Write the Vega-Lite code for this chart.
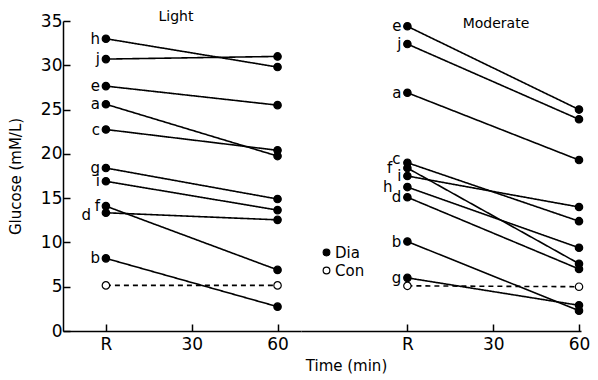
{
  "$schema": "https://vega.github.io/schema/vega-lite/v6.json",
  "padding": {"left": 8, "top": 10, "right": 5, "bottom": 5},
  "background": "white",
  "spacing": 0,
  "config": {
    "view": {"stroke": null},
    "font": "DejaVu Sans",
    "axis": {
      "grid": false,
      "domainColor": "black",
      "domainWidth": 1.5,
      "tickColor": "black",
      "tickWidth": 1.5,
      "tickSize": -7,
      "labelColor": "black",
      "labelFont": "DejaVu Sans",
      "labelFontSize": 17,
      "titleFont": "DejaVu Sans",
      "titleFontSize": 15,
      "titleFontWeight": "normal",
      "titleColor": "black"
    },
    "title": {"font": "DejaVu Sans", "fontSize": 14, "fontWeight": "normal", "color": "black"},
    "legend": {"labelFont": "DejaVu Sans", "labelFontSize": 15, "labelColor": "black"}
  },
  "datasets": {
    "glu": [
      {"panel": "Light", "id": "a", "grp": "Dia", "t": 0, "v": 25.6},
      {"panel": "Light", "id": "a", "grp": "Dia", "t": 60, "v": 19.75},
      {"panel": "Light", "id": "b", "grp": "Dia", "t": 0, "v": 8.2},
      {"panel": "Light", "id": "b", "grp": "Dia", "t": 60, "v": 2.75},
      {"panel": "Light", "id": "c", "grp": "Dia", "t": 0, "v": 22.75},
      {"panel": "Light", "id": "c", "grp": "Dia", "t": 60, "v": 20.4},
      {"panel": "Light", "id": "d", "grp": "Dia", "t": 0, "v": 13.35},
      {"panel": "Light", "id": "d", "grp": "Dia", "t": 60, "v": 12.55},
      {"panel": "Light", "id": "e", "grp": "Dia", "t": 0, "v": 27.65},
      {"panel": "Light", "id": "e", "grp": "Dia", "t": 60, "v": 25.5},
      {"panel": "Light", "id": "f", "grp": "Dia", "t": 0, "v": 14.1},
      {"panel": "Light", "id": "f", "grp": "Dia", "t": 60, "v": 6.9},
      {"panel": "Light", "id": "g", "grp": "Dia", "t": 0, "v": 18.4},
      {"panel": "Light", "id": "g", "grp": "Dia", "t": 60, "v": 14.9},
      {"panel": "Light", "id": "h", "grp": "Dia", "t": 0, "v": 33.0},
      {"panel": "Light", "id": "h", "grp": "Dia", "t": 60, "v": 29.8},
      {"panel": "Light", "id": "i", "grp": "Dia", "t": 0, "v": 16.9},
      {"panel": "Light", "id": "i", "grp": "Dia", "t": 60, "v": 13.65},
      {"panel": "Light", "id": "j", "grp": "Dia", "t": 0, "v": 30.7},
      {"panel": "Light", "id": "j", "grp": "Dia", "t": 60, "v": 31.0},
      {"panel": "Light", "id": "con", "grp": "Con", "t": 0, "v": 5.15},
      {"panel": "Light", "id": "con", "grp": "Con", "t": 60, "v": 5.15},
      {"panel": "Moderate", "id": "a", "grp": "Dia", "t": 0, "v": 26.9},
      {"panel": "Moderate", "id": "a", "grp": "Dia", "t": 60, "v": 19.3},
      {"panel": "Moderate", "id": "b", "grp": "Dia", "t": 0, "v": 10.1},
      {"panel": "Moderate", "id": "b", "grp": "Dia", "t": 60, "v": 2.3},
      {"panel": "Moderate", "id": "c", "grp": "Dia", "t": 0, "v": 19.0},
      {"panel": "Moderate", "id": "c", "grp": "Dia", "t": 60, "v": 12.4},
      {"panel": "Moderate", "id": "d", "grp": "Dia", "t": 0, "v": 15.1},
      {"panel": "Moderate", "id": "d", "grp": "Dia", "t": 60, "v": 7.0},
      {"panel": "Moderate", "id": "e", "grp": "Dia", "t": 0, "v": 34.4},
      {"panel": "Moderate", "id": "e", "grp": "Dia", "t": 60, "v": 25.0},
      {"panel": "Moderate", "id": "f", "grp": "Dia", "t": 0, "v": 18.4},
      {"panel": "Moderate", "id": "f", "grp": "Dia", "t": 60, "v": 7.6},
      {"panel": "Moderate", "id": "g", "grp": "Dia", "t": 0, "v": 6.0},
      {"panel": "Moderate", "id": "g", "grp": "Dia", "t": 60, "v": 2.9},
      {"panel": "Moderate", "id": "h", "grp": "Dia", "t": 0, "v": 16.25},
      {"panel": "Moderate", "id": "h", "grp": "Dia", "t": 60, "v": 9.4},
      {"panel": "Moderate", "id": "i", "grp": "Dia", "t": 0, "v": 17.5},
      {"panel": "Moderate", "id": "i", "grp": "Dia", "t": 60, "v": 14.0},
      {"panel": "Moderate", "id": "j", "grp": "Dia", "t": 0, "v": 32.4},
      {"panel": "Moderate", "id": "j", "grp": "Dia", "t": 60, "v": 23.9},
      {"panel": "Moderate", "id": "con", "grp": "Con", "t": 0, "v": 5.1},
      {"panel": "Moderate", "id": "con", "grp": "Con", "t": 60, "v": 5.0}
    ]
  },
  "resolve": {"scale": {"x": "independent", "fill": "independent"}, "legend": {"fill": "independent"}},
  "hconcat": [
    {
      "width": 238,
      "height": 310,
      "title": {"text": "Light", "anchor": "middle", "dx": -6, "offset": -12},
      "data": {"name": "glu"},
      "transform": [{"filter": "datum.panel === 'Light'"}],
      "encoding": {
        "x": {
          "field": "t", "type": "quantitative",
          "scale": {"domain": [-15, 68.2], "nice": false, "zero": false},
          "axis": {"values": [0, 30, 60], "labelExpr": "datum.value === 0 ? 'R' : datum.label", "title": null, "labelPadding": 12}
        },
        "y": {
          "field": "v", "type": "quantitative",
          "scale": {"domain": [0, 35], "nice": false},
          "axis": {"values": [0, 5, 10, 15, 20, 25, 30, 35], "title": "Glucose (mM/L)", "labelPadding": 8, "titlePadding": 17}
        }
      },
      "layer": [
        {
          "mark": {"type": "line", "color": "black", "strokeWidth": 1.6},
          "encoding": {
            "detail": {"field": "id"},
            "strokeDash": {"field": "grp", "type": "nominal", "scale": {"domain": ["Dia", "Con"], "range": [[1, 0], [5, 4]]}, "legend": null}
          }
        },
        {
          "mark": {"type": "point", "filled": true, "size": 55, "stroke": "black", "strokeWidth": 1.2, "opacity": 1},
          "encoding": {
            "fill": {"field": "grp", "type": "nominal", "scale": {"domain": ["Dia", "Con"], "range": ["black", "white"]}, "legend": null}
          }
        },
        {
          "transform": [{"filter": "datum.t === 0 && datum.grp === 'Dia' && datum.id !== 'd'"}],
          "mark": {"type": "text", "align": "right", "baseline": "middle", "dx": -6, "fontSize": 15, "fill": "black"},
          "encoding": {"text": {"field": "id"}}
        },
        {
          "transform": [{"filter": "datum.t === 0 && datum.id === 'd'"}],
          "mark": {"type": "text", "align": "right", "baseline": "middle", "dx": -15, "dy": 2, "fontSize": 15, "fill": "black"},
          "encoding": {"text": {"field": "id"}}
        }
      ]
    },
    {
      "width": 280,
      "height": 310,
      "title": {"text": "Moderate", "anchor": "middle", "dx": 55, "offset": -12},
      "data": {"name": "glu"},
      "transform": [{"filter": "datum.panel === 'Moderate'"}],
      "encoding": {
        "x": {
          "field": "t", "type": "quantitative",
          "scale": {"domain": [-37.2, 60.7], "nice": false, "zero": false},
          "axis": {"values": [0, 30, 60], "labelExpr": "datum.value === 0 ? 'R' : datum.label", "title": "Time (min)", "labelPadding": 12, "titleX": 45, "titleAlign": "center", "titlePadding": 6}
        },
        "y": {
          "field": "v", "type": "quantitative",
          "scale": {"domain": [0, 35], "nice": false},
          "axis": null
        }
      },
      "layer": [
        {
          "mark": {"type": "line", "color": "black", "strokeWidth": 1.6},
          "encoding": {
            "detail": {"field": "id"},
            "strokeDash": {"field": "grp", "type": "nominal", "scale": {"domain": ["Dia", "Con"], "range": [[1, 0], [5, 4]]}, "legend": null}
          }
        },
        {
          "mark": {"type": "point", "filled": true, "size": 55, "stroke": "black", "strokeWidth": 1.2, "opacity": 1},
          "encoding": {
            "fill": {
              "field": "grp", "type": "nominal",
              "scale": {"domain": ["Dia", "Con"], "range": ["black", "white"]},
              "legend": {"orient": "none", "legendX": 18, "legendY": 224, "padding": 0, "title": null, "symbolSize": 45, "symbolStrokeColor": "black", "symbolStrokeWidth": 1.2, "symbolType": "circle", "labelOffset": 1, "rowPadding": 2}
            }
          }
        },
        {
          "transform": [{"filter": "datum.t === 0 && datum.grp === 'Dia' && datum.id !== 'c' && datum.id !== 'f' && datum.id !== 'h'"}],
          "mark": {"type": "text", "align": "right", "baseline": "middle", "dx": -6, "fontSize": 15, "fill": "black"},
          "encoding": {"text": {"field": "id"}}
        },
        {
          "transform": [{"filter": "datum.t === 0 && datum.id === 'c'"}],
          "mark": {"type": "text", "align": "right", "baseline": "middle", "dx": -7, "dy": -4, "fontSize": 15, "fill": "black"},
          "encoding": {"text": {"field": "id"}}
        },
        {
          "transform": [{"filter": "datum.t === 0 && (datum.id === 'f' || datum.id === 'h')"}],
          "mark": {"type": "text", "align": "right", "baseline": "middle", "dx": -15, "fontSize": 15, "fill": "black"},
          "encoding": {"text": {"field": "id"}}
        }
      ]
    }
  ]
}
